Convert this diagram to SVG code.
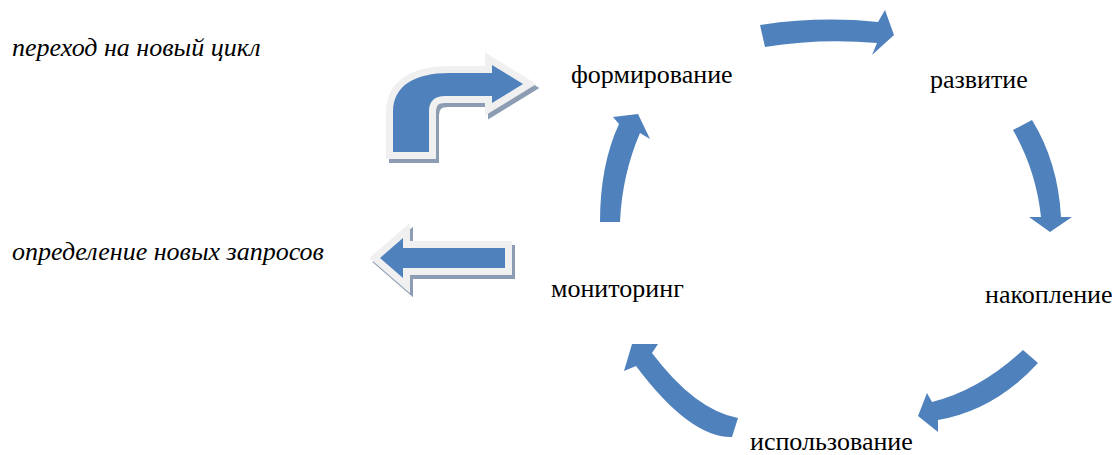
<svg xmlns="http://www.w3.org/2000/svg" width="1119" height="455" viewBox="0 0 1119 455" xml:lang="ru">
  <style>
    text { font-family: "Liberation Serif", "Times New Roman", serif !important; fill: #000; }
  </style>
  <defs>
    <!-- block arrow outlines, reused for shadow, rim and face -->
    <path id="bentShape" d="M 393,152 L 393,112 C 393,86 414,73 450,73 L 492,73 L 492,65 L 523,84 L 492,103 L 492,96 L 445,96 C 435,96 429,101 429,111 L 429,152 Z"/>
    <path id="backShape" d="M 380,258 L 403,238 L 403,248 L 505,248 L 505,268 L 403,268 L 403,278 Z"/>
  </defs>
  <rect width="1119" height="455" fill="#ffffff"/>

  <!-- side notes -->
  <g id="note-new-cycle">
    <text x="12" y="56" font-family="Liberation Serif" font-size="26" font-style="italic" style="font-family:'Liberation Serif',serif !important">переход на новый цикл</text>
  </g>
  <g id="note-new-requests">
    <text x="12" y="260" font-family="Liberation Serif" font-size="26" font-style="italic" style="font-family:'Liberation Serif',serif !important">определение новых запросов</text>
  </g>

  <!-- block arrows with rim and drop shadow -->
  <g id="arrow-new-cycle" stroke-width="14" stroke-linejoin="miter" stroke-miterlimit="10">
    <use href="#bentShape" fill="#8c9db3" stroke="#8c9db3" transform="translate(3,4)"/>
    <use href="#bentShape" fill="#f0f0f0" stroke="#f0f0f0"/>
    <use href="#bentShape" fill="#4f81bd" stroke="none"/>
  </g>
  <g id="arrow-new-requests" stroke-width="14" stroke-linejoin="miter" stroke-miterlimit="10">
    <use href="#backShape" fill="#8c9db3" stroke="#8c9db3" transform="translate(3,4)"/>
    <use href="#backShape" fill="#f0f0f0" stroke="#f0f0f0"/>
    <use href="#backShape" fill="#4f81bd" stroke="none"/>
  </g>

  <!-- cycle stages -->
  <g id="stage-forming">
    <text x="571" y="83" font-family="Liberation Serif" font-size="26" style="font-family:'Liberation Serif',serif !important">формирование</text>
  </g>
  <g id="stage-development">
    <text x="930" y="88" font-family="Liberation Serif" font-size="26" style="font-family:'Liberation Serif',serif !important">развитие</text>
  </g>
  <g id="stage-accumulation">
    <text x="985" y="303" font-family="Liberation Serif" font-size="26" style="font-family:'Liberation Serif',serif !important">накопление</text>
  </g>
  <g id="stage-usage">
    <text x="750" y="450" font-family="Liberation Serif" font-size="26" style="font-family:'Liberation Serif',serif !important">использование</text>
  </g>
  <g id="stage-monitoring">
    <text x="551" y="297" font-family="Liberation Serif" font-size="26" style="font-family:'Liberation Serif',serif !important">мониторинг</text>
  </g>

  <!-- curved cycle arrows -->
  <g id="connectors" fill="#4f81bd">
    <path d="M 760,25 Q 820,16 878,22 L 885,10 L 894,35 L 872,55 L 877,43 Q 820,38 765,47 Z"/>
    <path d="M 1013,130 Q 1036,170 1041,217 L 1029,217 L 1050,232 L 1072,217 L 1061,217 Q 1058,162 1032,120 Z"/>
    <path d="M 1023,350 Q 980,390 932,402 L 927,393 L 918,416 L 938,432 L 938,420 Q 995,410 1038,363 Z"/>
    <path d="M 738,418 Q 695,410 652,353 L 658,344 L 632,344 L 624,371 L 636,366 Q 690,438 732,437 Z"/>
    <path d="M 600,222 Q 600,165 619,124 L 613,117 L 638,114 L 650,139 L 640,133 Q 622,175 620,222 Z"/>
  </g>
</svg>
